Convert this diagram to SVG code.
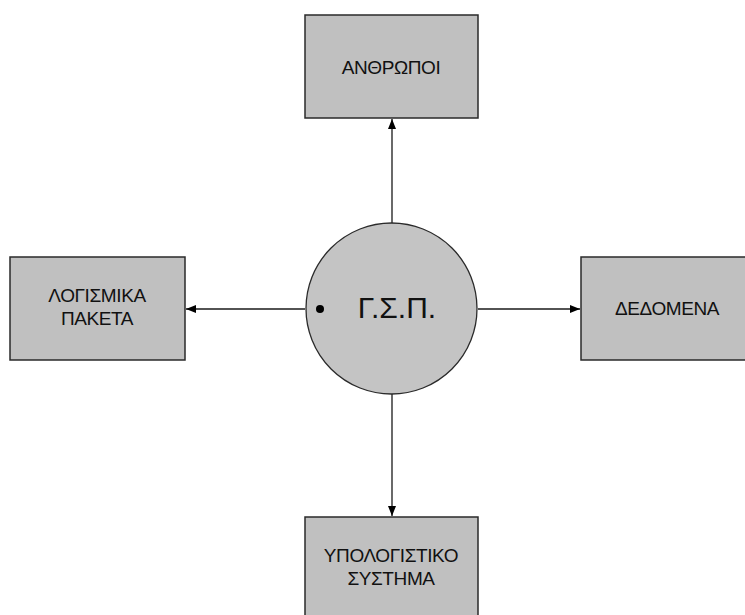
<svg xmlns="http://www.w3.org/2000/svg" width="745" height="615" viewBox="0 0 745 615">
<defs>
<style>
.box{fill:#c0c0c0;stroke:#2a2a2a;stroke-width:1.5}
.lbl{font-family:"Liberation Sans",Arial,sans-serif;font-size:19px;letter-spacing:-0.4px;fill:#111;text-anchor:middle}
.conn{stroke:#1a1a1a;stroke-width:1.3;fill:none;marker-end:url(#ah)}
</style>
<marker id="ah" viewBox="0 0 10 8" refX="10" refY="4" markerWidth="10" markerHeight="8" markerUnits="userSpaceOnUse" orient="auto">
<path d="M0,0 L10,4 L0,8 Z" fill="#000"/>
</marker>
</defs>
<rect width="745" height="615" fill="#fff"/>
<g id="connectors">
<line class="conn" x1="392" y1="223" x2="392" y2="119"/>
<line class="conn" x1="305" y1="309" x2="186" y2="309"/>
<line class="conn" x1="478" y1="309" x2="580" y2="309"/>
<line class="conn" x1="392" y1="394" x2="392" y2="516"/>
</g>
<g id="anthropoi">
<rect class="box" x="305" y="15" width="173" height="103"/>
<text class="lbl" x="391" y="74">ΑΝΘΡΩΠΟΙ</text>
</g>
<g id="logismika">
<rect class="box" x="10" y="257" width="175" height="103"/>
<text class="lbl" x="97" y="302">ΛΟΓΙΣΜΙΚΑ</text>
<text class="lbl" x="97" y="325">ΠΑΚΕΤΑ</text>
</g>
<g id="dedomena">
<rect class="box" x="581" y="257" width="170" height="103"/>
<text class="lbl" x="667" y="315">ΔΕΔΟΜΕΝΑ</text>
</g>
<g id="ypologistiko">
<rect class="box" x="305" y="517" width="173" height="110"/>
<text class="lbl" x="391" y="562">ΥΠΟΛΟΓΙΣΤΙΚΟ</text>
<text class="lbl" x="391" y="585">ΣΥΣΤΗΜΑ</text>
</g>
<g id="gsp">
<circle cx="391.5" cy="308.5" r="85.5" fill="#c4c4c4" stroke="#2a2a2a" stroke-width="1.3"/>
<circle cx="320" cy="309" r="4" fill="#000"/>
<text x="397" y="318" font-family="'Liberation Sans',Arial,sans-serif" font-size="30" fill="#111" text-anchor="middle">Γ.Σ.Π.</text>
</g>
</svg>
